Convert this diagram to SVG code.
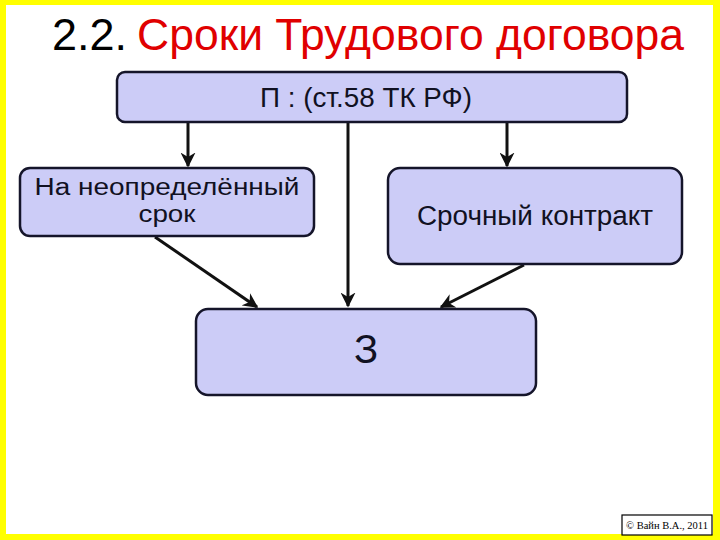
<svg xmlns="http://www.w3.org/2000/svg" width="720" height="540" viewBox="0 0 720 540">
<style>
.box{fill:#ccccf7;stroke:#15152a;stroke-width:2.5}
.t{font-family:"Liberation Sans",Arial,sans-serif;fill:#111122;text-anchor:middle}
.c{stroke:#111;stroke-width:3;fill:none;marker-end:url(#ah)}
</style>
<defs>
<marker id="ah" viewBox="0 0 10 10" refX="9" refY="5" markerWidth="5" markerHeight="5" orient="auto" markerUnits="strokeWidth">
<path d="M0,0 L10,5 L0,10 L3,5 z" fill="#111"/>
</marker>
</defs>
<rect x="0" y="0" width="720" height="540" fill="#ffff00"/>
<rect x="6" y="5" width="707" height="529" fill="#ffffff"/>
<g id="title">
<text x="52" y="50" font-family="'Liberation Sans',Arial,sans-serif" font-size="45" fill="#000"><tspan>2.2.</tspan><tspan dx="10" fill="#e00000" textLength="547" lengthAdjust="spacingAndGlyphs">Сроки Трудового договора</tspan></text>
</g>
<g id="connectors">
<line class="c" x1="188" y1="123" x2="188" y2="166"/>
<line class="c" x1="348" y1="123" x2="348" y2="306"/>
<line class="c" x1="507" y1="123" x2="507" y2="166"/>
<line class="c" x1="155" y1="237" x2="257" y2="307"/>
<line class="c" x1="524" y1="265" x2="441" y2="307"/>
</g>
<g id="node-top">
<rect class="box" x="117" y="72" width="510" height="50" rx="8"/>
<text class="t" x="366" y="107" font-size="27" textLength="212" lengthAdjust="spacingAndGlyphs">П : (ст.58 ТК РФ)</text>
</g>
<g id="node-left">
<rect class="box" x="20" y="168" width="294" height="68" rx="10"/>
<text class="t" x="167" y="195" font-size="23" textLength="265" lengthAdjust="spacingAndGlyphs">На неопределённый</text>
<text class="t" x="167" y="222" font-size="23" textLength="57" lengthAdjust="spacingAndGlyphs">срок</text>
</g>
<g id="node-right">
<rect class="box" x="388" y="168" width="294" height="96" rx="12"/>
<text class="t" x="535" y="225" font-size="27" textLength="236" lengthAdjust="spacingAndGlyphs">Срочный контракт</text>
</g>
<g id="node-bottom">
<rect class="box" x="196" y="309" width="340" height="86" rx="12"/>
<text class="t" x="366" y="363" font-size="40">З</text>
</g>
<g id="copyright">
<rect x="622" y="515" width="90" height="20" fill="#fff" stroke="#000" stroke-width="1.2"/>
<text x="667" y="529" font-family="'Liberation Serif','Times New Roman',serif" font-size="10.5" text-anchor="middle" fill="#000">© Вайн В.А., 2011</text>
</g>
</svg>
